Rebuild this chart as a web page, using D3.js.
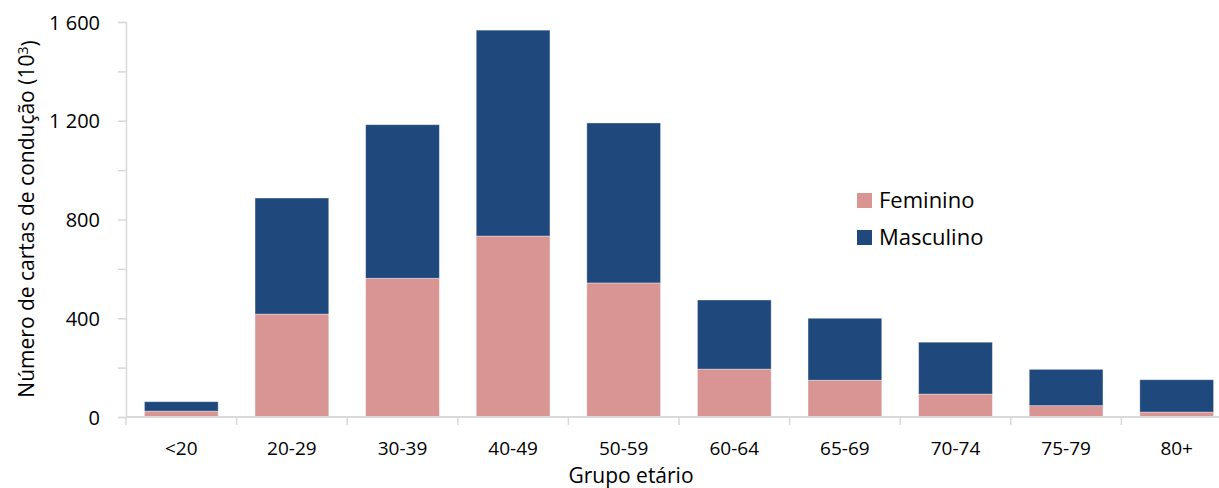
<!DOCTYPE html>
<html>
<head>
<meta charset="utf-8">
<script src="https://cdn.jsdelivr.net/npm/d3@7"></script>
<style>
  html, body { margin: 0; padding: 0; background: #fff; }
  svg { display: block; font-family: "Open Sans", Lato, sans-serif; }
</style>
</head>
<body>
<svg id="chart" width="1219" height="488"></svg>
<script>
// Age groups and driving licences by sex (thousands)
const categories = ["<20", "20-29", "30-39", "40-49", "50-59", "60-64", "65-69", "70-74", "75-79", "80+"];
const feminino   = [24, 417, 562, 733, 543, 194, 149, 93, 46, 20];
const masculino  = [38, 470, 622, 834, 648, 280, 251, 210, 147, 131];
const yTickValues = [0, 200, 400, 600, 800, 1000, 1200, 1400, 1600];
const seriesNames = ["Feminino", "Masculino"];
const colors = ["#D99594", "#1F497D"];

const svg = d3.select("#chart");
const x0 = 126, x1 = 1232, yTop = 22, yBase = 417;

const x = d3.scaleBand().domain(categories).range([x0, x1]).paddingInner(1 / 3).paddingOuter(1 / 6);
const y = d3.scaleLinear().domain([0, 1600]).range([yBase, yTop]);

const rows = categories.map((c, i) => ({ cat: c, Feminino: feminino[i], Masculino: masculino[i] }));
const stacked = d3.stack().keys(seriesNames)(rows);

// stacked bars
svg.append("g").selectAll("g").data(stacked).join("g")
  .attr("fill", (d, i) => colors[i])
  .selectAll("rect").data(d => d).join("rect")
  .attr("x", d => x(d.data.cat))
  .attr("width", x.bandwidth())
  .attr("y", d => y(d[1]))
  .attr("height", d => y(d[0]) - y(d[1]))
  .attr("stroke", "rgba(255,255,255,0.45)")
  .attr("stroke-width", 0.8);

// y axis: ticks every 200, labels every 400 with a space as thousands separator
const fmt = d => d % 400 === 0 ? d3.format(",")(d).replace(",", " ") : "";
const yAxis = svg.append("g").attr("transform", `translate(${x0},0)`)
  .call(d3.axisLeft(y).tickValues(yTickValues).tickSize(8).tickPadding(18).tickFormat(fmt));
yAxis.select(".domain").attr("stroke", "#D9D9D9").attr("stroke-width", 1.5);
yAxis.selectAll(".tick line").attr("stroke", "#D9D9D9").attr("stroke-width", 1.5);
yAxis.selectAll(".tick text").attr("fill", "#000").style("font-size", "20px").attr("dy", "0.35em")
  .style("font-family", "'Open Sans', sans-serif");

// x axis with ticks at band boundaries
const xAxis = svg.append("g").attr("transform", `translate(0,${yBase})`);
xAxis.append("line").attr("x1", x0).attr("x2", x1).attr("y1", 0).attr("y2", 0)
  .attr("stroke", "#D9D9D9").attr("stroke-width", 2);
const boundaries = categories.map(c => x(c) - x.step() * x.paddingInner() / 2).concat([x1]);
xAxis.selectAll("line.tk").data(boundaries).join("line").attr("class", "tk")
  .attr("x1", d => d).attr("x2", d => d).attr("y1", 0).attr("y2", 8)
  .attr("stroke", "#D9D9D9").attr("stroke-width", 1.5);
xAxis.selectAll("text").data(categories).join("text")
  .attr("x", d => x(d) + x.bandwidth() / 2).attr("y", 38)
  .attr("text-anchor", "middle").style("font-size", "19px").attr("fill", "#000")
  .text(d => d);

// axis titles
svg.append("text").attr("x", 631).attr("y", 483).attr("text-anchor", "middle")
  .style("font-size", "21px").attr("fill", "#000").text("Grupo etário");

const yt = svg.append("text").attr("transform", "translate(34,219) rotate(-90)")
  .attr("text-anchor", "middle").style("font-size", "21px").attr("fill", "#000");
yt.append("tspan").text("Número de cartas de condução (10");
yt.append("tspan").attr("dy", "-0.45em").style("font-size", "14px").text("3");
yt.append("tspan").attr("dy", "0.45em").text(")");

// legend
const legend = svg.append("g").attr("transform", "translate(857,193)");
seriesNames.forEach((name, i) => {
  const g = legend.append("g").attr("transform", `translate(0,${i * 37})`);
  g.append("rect").attr("width", 15).attr("height", 15).attr("fill", colors[i]);
  g.append("text").attr("x", 22).attr("y", 15).style("font-size", "22px").attr("fill", "#000").text(name);
});
</script>
</body>
</html>
